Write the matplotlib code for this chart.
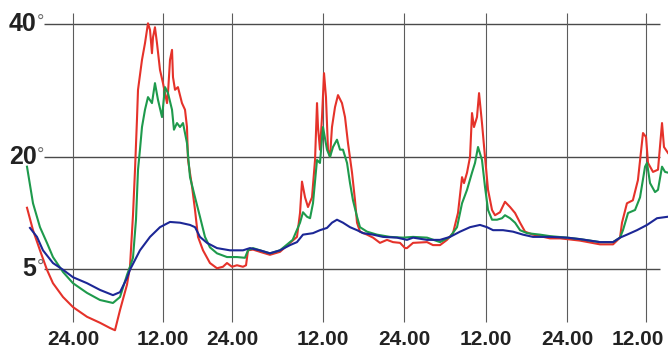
import numpy as np
import matplotlib
matplotlib.use('Agg')
import matplotlib.pyplot as plt

# hours counted from the first "24.00" line, temperatures in degrees
red_hours = [-6.13, -5.33, -4.4, -3.47, -2.67, -1.33, 0, 1.87, 3.6, 4.93, 5.6, 6.27, 7.2, 7.6, 8.0, 8.27,
             8.53, 8.67, 9.2, 9.6, 10.0, 10.27, 10.53, 10.67, 10.93, 11.2, 11.6, 12.0, 12.7, 12.87, 13.22,
             13.57, 13.74, 14.09, 14.6, 15.3, 15.83, 16.17, 16.35, 17.04, 17.57, 18.09, 18.96, 20.17, 21.39,
             22.43, 23.13, 24.0, 24.66, 25.45, 25.85, 26.11, 26.77, 27.69, 29.0, 30.33, 31.65, 32.57, 32.97,
             33.23, 33.63, 34.02, 34.55, 34.95, 35.21, 35.34, 35.6, 35.87, 36.15, 36.44, 36.74, 37.04, 37.33,
             37.78, 38.22, 38.81, 39.26, 39.7, 40.3, 40.74, 41.04, 41.48, 42.52, 43.41, 44.44, 45.48, 46.37,
             47.41, 48.15, 48.44, 49.32, 51.37, 52.24, 53.27, 54.29, 55.17, 55.9, 56.49, 56.78, 57.22, 57.66,
             57.95, 58.24, 58.68, 58.98, 59.41, 59.85, 60.3, 60.89, 61.33, 62.07, 62.81, 63.56, 64.3, 65.04,
             65.78, 66.96, 68.0, 69.48, 70.96, 72.0, 73.97, 77.01, 78.99, 80.05, 80.35, 81.1, 82.0, 82.77,
             83.54, 84.0, 84.3, 85.06, 85.82, 86.43, 86.73, 87.34]
red_temp = [13.2, 10.2, 7.5, 4.9, 3.1, 1.25, -0.1, -1.4, -2.2, -2.9, -3.2, -0.5, 2.9, 5.3, 12.2, 18.3,
            25.6, 30.1, 34.6, 37.1, 40.1, 39.1, 35.6, 38.0, 39.5, 37.1, 33.1, 31.1, 28.1, 29.6, 34.6,
            36.1, 32.0, 30.1, 30.5, 28.1, 27.1, 24.5, 19.6, 16.1, 12.9, 9.3, 7.5, 5.8, 5.1,
            5.3, 5.8, 5.3, 5.5, 5.3, 5.5, 7.5, 7.6, 7.3, 6.9, 7.3, 8.5, 9.3, 12.5,
            16.7, 14.6, 13.3, 14.6, 19.6, 28.1, 24.5, 21.1, 26.0, 32.6, 29.0, 21.1, 20.0, 24.5,
            27.5, 29.3, 28.1, 26.0, 22.1, 17.9, 14.2, 11.2, 10.0, 9.6, 9.2, 8.5, 8.9, 8.6,
            8.5, 7.8, 7.8, 8.5, 8.6, 8.2, 8.2, 8.9, 9.8, 12.5, 17.3, 16.5, 17.9, 20.0,
            26.6, 24.5, 26.0, 29.6, 25.1, 20.0, 15.6, 12.9, 12.2, 12.6, 14.0, 13.3, 12.5, 11.2,
            10.0, 9.6, 9.4, 9.1, 9.1, 9.0, 8.8, 8.3, 8.3, 9.2, 11.2, 13.8, 14.2, 16.9,
            23.6, 23.0, 19.2, 18.0, 18.3, 25.1, 21.5, 20.6]

green_hours = [-6.13, -5.33, -4.4, -3.47, -2.67, -1.33, 0, 1.87, 3.6, 5.33, 6.27, 7.2, 7.6, 8.0, 8.4, 8.67,
               8.93, 9.2, 9.6, 10.0, 10.53, 10.93, 11.33, 11.87, 12.35, 12.87, 13.57, 13.91, 14.43, 14.96,
               15.48, 16.17, 16.7, 17.57, 18.43, 19.3, 20.17, 21.39, 23.13, 24.66, 25.71, 26.11, 26.77, 27.69,
               29.0, 30.33, 32.0, 32.97, 33.36, 33.89, 34.29, 34.68, 35.21, 35.6, 36.0, 36.59, 37.04, 37.48,
               38.07, 38.52, 38.96, 39.56, 40.0, 40.44, 41.04, 41.48, 42.52, 44.0, 45.93, 47.85, 49.32, 51.37,
               53.27, 54.73, 55.76, 56.49, 57.22, 57.95, 58.39, 58.83, 59.41, 59.85, 60.3, 60.89, 61.63, 62.37,
               62.81, 63.56, 64.3, 65.04, 66.07, 68.0, 69.48, 72.0, 73.97, 77.01, 78.99, 80.05, 80.5, 81.27,
               82.33, 83.09, 83.85, 84.15, 84.61, 85.37, 85.82, 86.43, 86.89, 87.34]
green_temp = [18.7, 13.8, 10.6, 8.5, 6.6, 4.6, 3.1, 1.8, 0.85, 0.45, 1.25, 4.2, 5.3, 6.5, 11.6, 18.3,
              21.1, 24.5, 27.1, 29.0, 28.1, 31.1, 28.6, 26.0, 30.5, 29.6, 27.1, 24.1, 25.1, 24.5,
              25.1, 22.1, 17.3, 14.6, 12.0, 9.3, 7.9, 7.1, 6.6, 6.6, 6.5, 7.5, 7.8, 7.5,
              7.1, 7.5, 8.9, 11.2, 12.6, 12.0, 11.8, 13.8, 19.6, 19.2, 24.5, 21.1, 20.0, 21.5,
              22.6, 21.1, 21.1, 19.2, 16.5, 14.2, 12.0, 10.6, 10.0, 9.6, 9.3, 9.2, 9.3, 9.2,
              8.6, 9.3, 10.6, 13.8, 15.6, 17.9, 19.2, 21.5, 19.6, 16.0, 12.9, 11.6, 11.6, 11.8,
              12.2, 11.8, 11.2, 10.2, 9.8, 9.6, 9.4, 9.2, 9.0, 8.6, 8.6, 9.2, 10.2, 12.5,
              12.9, 14.6, 18.7, 19.2, 16.5, 15.3, 15.6, 18.7, 18.0, 17.9]

blue_hours = [-5.73, -4.8, -4.0, -2.67, -1.33, 0, 1.87, 3.6, 5.33, 6.27, 7.2, 7.6, 8.93, 10.27, 11.6, 13.22,
              14.96, 16.7, 17.57, 18.43, 19.65, 21.39, 23.65, 25.45, 26.37, 27.69, 29.0, 30.33, 31.65, 32.57,
              33.36, 34.68, 35.6, 36.59, 37.33, 38.07, 38.96, 40.0, 41.04, 41.93, 43.41, 44.89, 46.96, 48.44,
              49.32, 51.37, 53.27, 54.73, 56.2, 57.66, 59.12, 60.15, 61.04, 62.52, 64.0, 65.48, 66.96, 69.48,
              72.0, 73.97, 77.01, 78.99, 80.05, 81.11, 82.63, 84.15, 85.67, 87.34]
blue_temp = [10.5, 9.3, 7.5, 5.8, 4.9, 3.9, 3.1, 2.2, 1.5, 1.9, 3.8, 4.9, 7.5, 9.3, 10.6, 11.3,
             11.2, 10.9, 10.6, 9.3, 8.5, 7.8, 7.5, 7.5, 7.8, 7.5, 7.1, 7.5, 8.2, 8.6,
             9.6, 9.8, 10.2, 10.5, 11.2, 11.6, 11.2, 10.6, 10.2, 9.8, 9.6, 9.3, 9.2, 8.9,
             9.2, 8.9, 8.9, 9.3, 10.0, 10.6, 10.9, 10.6, 10.2, 10.2, 10.0, 9.6, 9.3, 9.3,
             9.2, 9.0, 8.6, 8.6, 9.2, 9.6, 10.2, 10.9, 11.8, 12.0]

levels = [40, 20, 5]
level_labels = ['40', '20', '5']
tick_hours = [0, 12, 24, 36, 48, 60, 72, 84]
tick_labels = ['24.00', '12.00', '24.00', '12.00', '24.00', '12.00', '24.00', '12.00']

# the original drawing is not evenly spaced, so both axes get a piecewise scale
x_ref = [-100] + tick_hours + [200]
x_pos = [-677, 73, 163, 232, 323, 404, 486, 567, 646, 1409]
y_ref = [-60, 5, 20, 40, 100]
y_pos = [-485.3, 0, 112, 245, 644]

def x_fwd(v):
    return np.interp(v, x_ref, x_pos)

def x_inv(v):
    return np.interp(v, x_pos, x_ref)

def y_fwd(v):
    return np.interp(v, y_ref, y_pos)

def y_inv(v):
    return np.interp(v, y_pos, y_ref)

fig = plt.figure(figsize=(6.68, 3.51), dpi=100)
ax = fig.add_axes([0, 0, 1, 1])
ax.set_xscale('function', functions=(x_fwd, x_inv))
ax.set_yscale('function', functions=(y_fwd, y_inv))
ax.set_xlim(-9.73, 87.34)
ax.set_ylim(-5.98, 43.6)
ax.axis('off')

# grid
ax.hlines(levels, -3.87, 86.13, color='#4a4a4a', lw=1.0, zorder=1)
ax.vlines(tick_hours, -2.1, 41.65, color='#5c5c5c', lw=0.8, zorder=1)

ax.plot(red_hours, red_temp, color='#e5322a', lw=1.5, zorder=3)
ax.plot(green_hours, green_temp, color='#1e9a4c', lw=1.5, zorder=4)
ax.plot(blue_hours, blue_temp, color='#1c2796', lw=1.5, zorder=5)

for lev, lab in zip(levels, level_labels):
    ax.text(-4.85, lev, lab, ha='right', va='center', fontsize=18, fontweight='bold',
            family='Liberation Sans', color='#222222')
    ax.annotate('°', xy=(-4.85, lev), xytext=(0, 7), textcoords='offset points',
                ha='left', va='top', fontsize=13, family='Liberation Sans', color='#6e6e6e')

# the last label sits a bit left so it stays inside the picture
for i, (h, lab) in enumerate(zip(tick_hours, tick_labels)):
    if i == len(tick_hours) - 1:
        ax.annotate(lab, xy=(h, -4.44), xytext=(-6, 0), textcoords='offset points',
                    ha='center', va='center', fontsize=15, fontweight='bold',
                    family='Liberation Sans', color='#222222')
    else:
        ax.text(h, -4.44, lab, ha='center', va='center', fontsize=15, fontweight='bold',
                family='Liberation Sans', color='#222222')

fig.savefig('out.png', dpi=100)
